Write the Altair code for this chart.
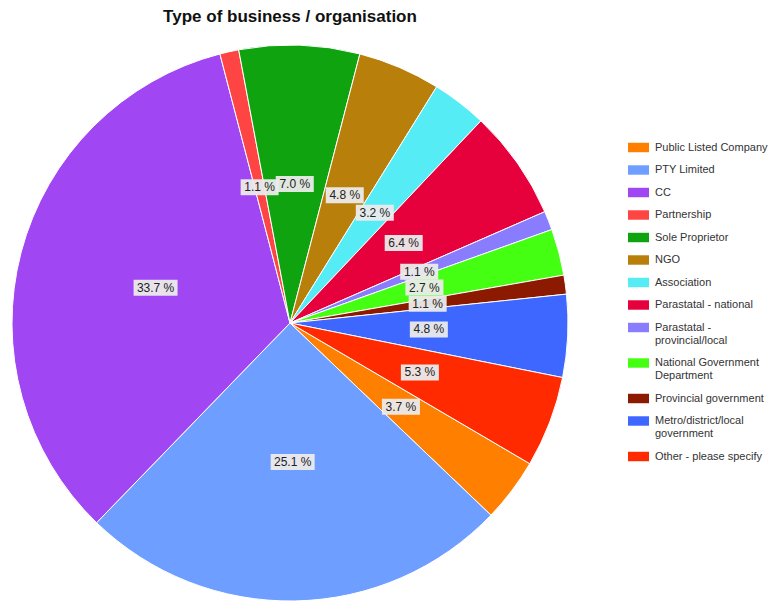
import math
import altair as alt
import pandas as pd

categories = [
    "Public Listed Company",
    "PTY Limited",
    "CC",
    "Partnership",
    "Sole Proprietor",
    "NGO",
    "Association",
    "Parastatal - national",
    "Parastatal -|provincial/local",
    "National Government|Department",
    "Provincial government",
    "Metro/district/local|government",
    "Other - please specify",
]
values = [3.7, 25.1, 33.7, 1.1, 7.0, 4.8, 3.2, 6.4, 1.1, 2.7, 1.1, 4.8, 5.3]
colors = [
    "#FF7F00", "#6E9EFF", "#A046F2", "#FF4444", "#0FA30F", "#B8800A",
    "#55ECF6", "#E6003C", "#8A7CFF", "#44FF12", "#8B1A00", "#3D67FF", "#FF2A00",
]
pct_labels = [f"{v:.1f} %" for v in values]

df = pd.DataFrame({
    "cat": categories,
    "value": values,
    "idx": list(range(len(values))),
    "label": pct_labels,
})

R = 278.0
START = math.radians(120.4)

xs = alt.Scale(domain=[-1, 1], nice=False, zero=False)
ys = alt.Scale(domain=[-1, 1], nice=False, zero=False)

arc = alt.Chart(df).mark_arc(stroke="white", strokeWidth=1).encode(
    theta=alt.Theta("value:Q", stack=True,
                    scale=alt.Scale(range=[START, START + 2 * math.pi])),
    color=alt.Color("cat:N", scale=alt.Scale(domain=categories, range=colors),
                    legend=alt.Legend(title=None, labelExpr="split(datum.label, '|')")),
    order=alt.Order("idx:Q"),
)

base = alt.Chart(df).transform_window(
    cum="sum(value)", sort=[alt.SortField("idx")], frame=[None, 0]
).transform_calculate(
    mid=f"{START} + 2*PI*(datum.cum - datum.value/2)/100",
).transform_calculate(
    px="0.5*sin(datum.mid)",
    py="0.5*cos(datum.mid)",
    hw=f"(length(datum.label) > 5 ? 44 : 38)/2/{R}",
    hh=f"8/{R}",
).transform_calculate(
    bx1="datum.px - datum.hw",
    bx2="datum.px + datum.hw",
    by1="datum.py - datum.hh",
    by2="datum.py + datum.hh",
)

boxes = base.mark_rect(color="#EBEBEB", opacity=0.95).encode(
    x=alt.X("bx1:Q", scale=xs, axis=None),
    x2="bx2:Q",
    y=alt.Y("by1:Q", scale=ys, axis=None),
    y2="by2:Q",
)

texts = base.mark_text(font="Liberation Sans", fontSize=12, color="#222222").encode(
    x=alt.X("px:Q", scale=xs, axis=None),
    y=alt.Y("py:Q", scale=ys, axis=None),
    text="label:N",
)

chart = alt.layer(arc, boxes, texts).properties(
    width=556,
    height=556,
    title=alt.TitleParams(
        "Type of business / organisation",
        font="Liberation Sans", fontSize=17, fontWeight="bold",
        color="#111111", anchor="middle", offset=17,
    ),
    padding={"left": 4, "top": 37, "right": 202, "bottom": 0},
    autosize="none",
).configure_view(stroke=None).configure_legend(
    orient="none",
    legendX=616,
    legendY=92,
    symbolType="M-1,-0.45L1,-0.45L1,0.45L-1,0.45Z",
    symbolSize=441,
    symbolStrokeWidth=0,
    labelFont="Liberation Sans",
    labelFontSize=11,
    labelColor="#333333",
    labelLimit=300,
    labelOffset=6,
    rowPadding=6.5,
    padding=0,
)

chart.save("out.html", embed_options={"renderer": "svg", "actions": False})
